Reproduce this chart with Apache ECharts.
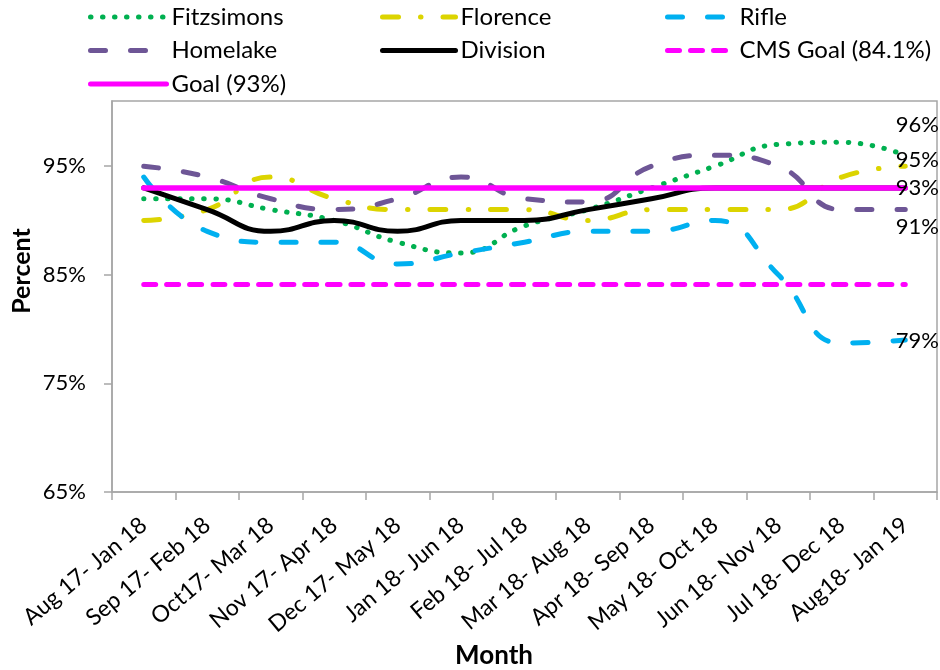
<!DOCTYPE html>
<html>
<head>
<meta charset="utf-8">
<script src="https://cdn.jsdelivr.net/npm/echarts@6/dist/echarts.min.js"></script>
<style>
  html, body { margin: 0; padding: 0; background: #ffffff; }
  #chart { width: 940px; height: 670px; }
</style>
</head>
<body>
<div id="chart"></div>
<script>
// Rolling six-month windows
const months = [
  'Aug 17- Jan 18', 'Sep 17- Feb 18', 'Oct17- Mar 18', 'Nov 17- Apr 18',
  'Dec 17- May 18', 'Jan 18- Jun 18', 'Feb 18- Jul 18', 'Mar 18- Aug 18',
  'Apr 18- Sep 18', 'May 18- Oct 18', 'Jun 18- Nov 18', 'Jul 18- Dec 18',
  'Aug18- Jan 19'
];

// Percent per clinic
const fitzsimons = [92, 92, 91, 90, 88, 87, 89.5, 91, 93, 95, 97, 97.2, 96];
const florence   = [90, 91, 94, 92, 91, 91, 91, 90, 91, 91, 91, 94, 95];
const rifle      = [94, 89, 88, 88, 86, 87, 88, 89, 89, 90, 85, 78.7, 79];
const homelake   = [95, 94, 92, 91, 92, 94, 92, 91.7, 95, 96, 95, 91, 91];
const division   = [93, 91, 89, 90, 89, 90, 90, 91, 92, 93, 93, 93, 93];
const cmsGoal    = [84.1, 84.1, 84.1, 84.1, 84.1, 84.1, 84.1, 84.1, 84.1, 84.1, 84.1, 84.1, 84.1];
const goal       = [93, 93, 93, 93, 93, 93, 93, 93, 93, 93, 93, 93, 93];

const yTicks = [65, 75, 85, 95];

const FONT = 'Lato, "Open Sans", sans-serif';
const AXIS_GREY = '#A6A6A6';

// Attach a value label to the last point of a series
function withEndLabel(values, dy) {
  return values.map(function (v, i) {
    if (i !== values.length - 1) return v;
    return {
      value: v,
      symbol: 'circle',
      symbolSize: 1,
      label: {
        show: true,
        position: 'right',
        offset: [-15, dy],
        formatter: '{c}%',
        fontFamily: FONT,
        fontSize: 22,
        color: '#000000'
      }
    };
  });
}

function lineSeries(name, data, color, type, width) {
  return {
    name: name,
    type: 'line',
    data: data,
    smooth: true,
    symbol: 'none',
    showSymbol: true,
    itemStyle: { color: color },
    lineStyle: { color: color, width: width, type: type, cap: 'round' },
    emphasis: { disabled: true },
    silent: true
  };
}

const legendText = { fontFamily: FONT, fontSize: 24, color: '#000000' };
const legendCommon = {
  orient: 'vertical',
  top: 5,
  padding: 0,
  itemHeight: 14,
  itemGap: 9.5,
  selectedMode: false,
  textStyle: legendText,
  itemStyle: { opacity: 0 },
  lineStyle: { width: 5 }
};

const chart = echarts.init(document.getElementById('chart'), null, { renderer: 'canvas' });

chart.setOption({
  animation: false,
  backgroundColor: '#ffffff',
  legend: [
    Object.assign({}, legendCommon, { left: 88, itemWidth: 76, data: ['Fitzsimons', 'Homelake', 'Goal (93%)'] }),
    Object.assign({}, legendCommon, { left: 380, itemWidth: 73, data: ['Florence', 'Division'] }),
    Object.assign({}, legendCommon, { left: 665, itemWidth: 67, data: ['Rifle', 'CMS Goal (84.1%)'] })
  ],
  grid: {
    left: 112,
    right: 3,
    top: 101,
    bottom: 178,
    show: true,
    borderColor: AXIS_GREY,
    borderWidth: 1.5,
    containLabel: false,
    outerBoundsMode: 'none'
  },
  xAxis: {
    type: 'category',
    data: months,
    boundaryGap: true,
    axisLine: { lineStyle: { color: AXIS_GREY, width: 1.5 } },
    axisTick: { show: true, length: 8, lineStyle: { color: AXIS_GREY, width: 1.5 } },
    axisLabel: {
      interval: 0,
      rotate: 40,
      margin: 30,
      fontFamily: FONT,
      fontSize: 23,
      color: '#000000'
    },
    splitLine: { show: false }
  },
  yAxis: {
    type: 'value',
    min: 65,
    max: 101,
    interval: 10,
    axisLine: { show: true, lineStyle: { color: AXIS_GREY, width: 1.5 } },
    axisTick: { show: true, length: 8, customValues: yTicks, lineStyle: { color: AXIS_GREY, width: 1.5 } },
    axisLabel: {
      customValues: yTicks,
      formatter: '{value}%',
      margin: 26,
      fontFamily: FONT,
      fontSize: 22,
      color: '#000000'
    },
    splitLine: { show: false }
  },
  graphic: [{
    type: 'text',
    x: 494,
    y: 656,
    style: {
      text: 'Month',
      align: 'center',
      verticalAlign: 'middle',
      fontFamily: FONT,
      fontSize: 26,
      fontWeight: 'bold',
      fill: '#000000'
    }
  }, {
    type: 'text',
    x: 22,
    y: 271,
    rotation: Math.PI / 2,
    style: {
      text: 'Percent',
      align: 'center',
      verticalAlign: 'middle',
      fontFamily: FONT,
      fontSize: 25,
      fontWeight: 'bold',
      fill: '#000000'
    }
  }],
  series: [
    lineSeries('Fitzsimons', withEndLabel(fitzsimons, -30), '#00B050', [0.5, 11.5], 5),
    lineSeries('Florence', withEndLabel(florence, -6), '#DCD400', [16, 22, 0.5, 22], 5),
    lineSeries('Rifle', withEndLabel(rifle, 1), '#00B0F0', [15, 25], 5),
    lineSeries('Homelake', withEndLabel(homelake, 17), '#6E5696', [15, 25], 5),
    lineSeries('Division', withEndLabel(division, 0), '#000000', 'solid', 5),
    lineSeries('CMS Goal (84.1%)', cmsGoal, '#FF00FF', [12, 11], 5),
    lineSeries('Goal (93%)', goal, '#FF00FF', 'solid', 5.5)
  ]
});
</script>
</body>
</html>
